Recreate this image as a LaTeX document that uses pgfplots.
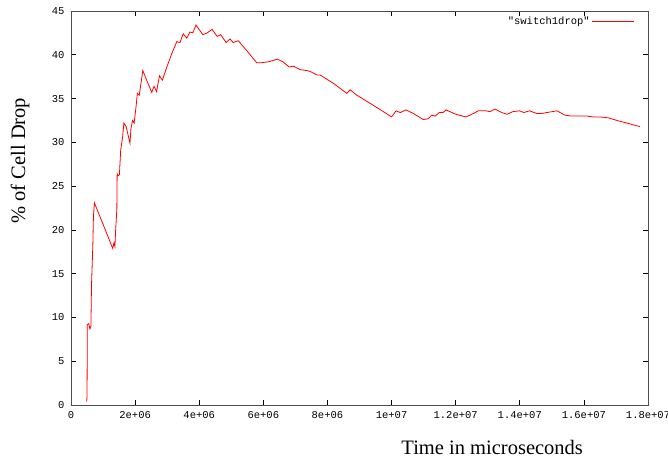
\documentclass[border=0pt]{standalone}
\usepackage{pgfplots}
\pgfplotsset{compat=1.18}
\usepackage{fontspec}
\setmainfont{Liberation Serif}
\newfontfamily\tickfont{Liberation Mono}
\begin{document}
\begin{tikzpicture}
\path[use as bounding box] (-71pt,-56pt) rectangle (597pt,405pt);
\begin{axis}[
  at={(0,0)}, anchor=south west,
  scale only axis, width=577pt, height=394pt,
  xmin=0, xmax=1.8e7, ymin=0, ymax=45,
  xtick={0,2e6,4e6,6e6,8e6,1e7,1.2e7,1.4e7,1.6e7,1.8e7},
  xticklabels={0,2e+06,4e+06,6e+06,8e+06,1e+07,1.2e+07,1.4e+07,1.6e+07,1.8e+07},
  ytick={0,5,...,45},
  scaled x ticks=false,
  tick align=inside, major tick length=5pt,
  tick style={black, line width=0.6pt},
  axis line style={black!70, line width=0.8pt},
  ticklabel style={font=\tickfont\fontsize{10.5}{10.5}\selectfont},
  /pgf/number format/assume math mode=true,
  xticklabel style={yshift=-3pt},
  yticklabel style={xshift=-3pt},
  xlabel={Time in microseconds},
  ylabel={\% of Cell Drop},
  label style={font=\fontsize{20.5}{20.5}\selectfont},
  xlabel style={at={(axis description cs:0.73,-0.107)}, anchor=center},
  ylabel style={at={(axis description cs:-0.0884,0.62)}, anchor=center, rotate=0},
  legend plot pos=right,
  legend style={draw=none, fill=none, at={(rel axis cs:0.977,0.99)}, anchor=north east,
    font=\tickfont\fontsize{10.5}{10.5}\selectfont, inner sep=0pt},
  legend image code/.code={\path (0pt,0pt) -- (8pt,0pt); \draw[#1] (8pt,0pt) -- (42pt,0pt);},
]
\addplot[red, line width=0.8pt] coordinates {
(0.49e6,0.38) (0.50e6,1.0) (0.51e6,9.2) (0.55e6,9.3) (0.59e6,8.7) (0.62e6,8.9)
(0.64e6,13.7) (0.68e6,18.1) (0.70e6,21.5) (0.73e6,23.1)
(1.30e6,17.9) (1.34e6,18.5) (1.37e6,18.1) (1.39e6,19.8) (1.43e6,22.3)
(1.44e6,26.4) (1.47e6,26.2) (1.51e6,26.3) (1.55e6,29.1) (1.61e6,30.6) (1.65e6,32.2)
(1.72e6,31.8) (1.84e6,29.9) (1.87e6,31.6) (1.92e6,32.5) (1.97e6,32.2) (2.03e6,34.1)
(2.07e6,35.6) (2.13e6,35.4) (2.24e6,38.2) (2.36e6,37.1) (2.52e6,35.7) (2.59e6,36.4)
(2.67e6,35.8) (2.76e6,37.6) (2.85e6,37.1) (2.99e6,38.6) (3.14e6,40.1) (3.30e6,41.5)
(3.40e6,41.4) (3.50e6,42.4) (3.61e6,41.9) (3.71e6,42.6) (3.80e6,42.5) (3.90e6,43.4)
(4.11e6,42.3) (4.25e6,42.5) (4.40e6,42.9) (4.56e6,42.1) (4.67e6,42.3) (4.84e6,41.4)
(4.96e6,41.8) (5.06e6,41.4) (5.22e6,41.6) (5.50e6,40.4) (5.79e6,39.1) (5.95e6,39.1) (6.16e6,39.2)
(6.44e6,39.5) (6.61e6,39.2) (6.81e6,38.6) (6.94e6,38.7) (7.15e6,38.3) (7.35e6,38.2)
(7.46e6,38.1) (7.67e6,37.7) (7.77e6,37.7) (8.20e6,36.7) (8.60e6,35.6) (8.71e6,36.0) (8.91e6,35.4)
(9.62e6,33.8) (10.0e6,32.9) (10.14e6,33.6) (10.27e6,33.4) (10.45e6,33.7) (10.68e6,33.3)
(10.99e6,32.6) (11.15e6,32.7) (11.25e6,33.1) (11.36e6,33.0) (11.49e6,33.4) (11.60e6,33.4)
(11.70e6,33.7) (12.01e6,33.2) (12.32e6,32.9) (12.50e6,33.2) (12.71e6,33.6) (12.95e6,33.6)
(13.07e6,33.5) (13.23e6,33.8) (13.44e6,33.4) (13.60e6,33.2) (13.78e6,33.5) (13.99e6,33.6)
(14.13e6,33.4) (14.30e6,33.6) (14.53e6,33.3) (14.69e6,33.3) (14.84e6,33.4) (15.16e6,33.6)
(15.41e6,33.1) (15.62e6,33.0) (15.88e6,33.0) (16.09e6,33.0) (16.30e6,32.9) (16.50e6,32.9)
(16.76e6,32.8) (17.03e6,32.5) (17.34e6,32.2) (17.54e6,32.0) (17.75e6,31.8)
};
\addlegendentry{"switch1drop"}
\end{axis}
\end{tikzpicture}
\end{document}
